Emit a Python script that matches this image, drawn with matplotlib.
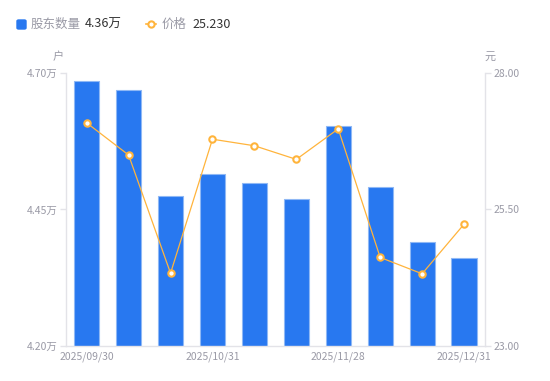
import matplotlib.pyplot as plt
import matplotlib.lines as mlines
import matplotlib.patches as mpatches
import numpy as np

plt.rcParams['font.family'] = ['Noto Sans CJK SC', 'DejaVu Sans']

dates = ["2025/09/30", "", "", "2025/10/31", "", "", "2025/11/28", "", "", "2025/12/31"]
holders = [4.686, 4.669, 4.474, 4.515, 4.499, 4.469, 4.603, 4.492, 4.390, 4.361]
price = [27.09, 26.50, 24.33, 26.79, 26.67, 26.42, 26.98, 24.62, 24.32, 25.23]
left_ticks = [4.20, 4.45, 4.70]
right_ticks = [23.00, 25.50, 28.00]

blue = '#2878F0'
orange = '#FFB43C'
gray = '#9a9aa6'
axis_col = '#e3e3e8'

fig = plt.figure(figsize=(5.5, 3.81), dpi=100)
ax = fig.add_axes([0.1195, 0.0927, 0.7623, 0.7149])
ax2 = ax.twinx()

x = np.arange(len(holders))
ax.bar(x, holders, width=0.6, color=blue, edgecolor='#8fb8f5', linewidth=0.8, zorder=2)
ax.set_ylim(4.20, 4.70)
ax.set_xlim(-0.5, len(holders) - 0.5)
ax.set_yticks(left_ticks)
ax.set_yticklabels([f"{v:.2f}万" for v in left_ticks])
ax.set_xticks(x)
ax.set_xticklabels(dates)

ax2.plot(x, price, color=orange, linewidth=0.9, marker='o', markersize=4.6,
         markerfacecolor='white', markeredgecolor=orange, markeredgewidth=1.5, zorder=3)
ax2.set_ylim(23.0, 28.0)
ax2.set_yticks(right_ticks)
ax2.set_yticklabels([f"{v:.2f}" for v in right_ticks])

for a in (ax, ax2):
    for s in a.spines.values():
        s.set_visible(False)
ax.spines['left'].set_visible(True)
ax.spines['bottom'].set_visible(True)
ax2.spines['right'].set_visible(True)
for s in (ax.spines['left'], ax.spines['bottom'], ax2.spines['right']):
    s.set_color(axis_col)
    s.set_linewidth(1)

ax.tick_params(axis='y', colors=axis_col, labelcolor=gray, labelsize=7.5, length=4, width=1, pad=2)
ax.tick_params(axis='x', length=0, labelcolor=gray, labelsize=7.5, pad=4)
ax2.tick_params(axis='y', colors=axis_col, labelcolor=gray, labelsize=7.5, length=4, width=1, pad=2)

fig.text(58 / 550, 1 - 57 / 381, "户", color=gray, fontsize=8, ha='center', va='center')
fig.text(490 / 550, 1 - 57 / 381, "元", color=gray, fontsize=8, ha='center', va='center')

# legend row
fig.patches.append(mpatches.FancyBboxPatch((17 / 550, 1 - 29 / 381), 9 / 550, 9 / 381,
                                           boxstyle='round,pad=0,rounding_size=0.003',
                                           transform=fig.transFigure, color=blue))
fig.text(31 / 550, 1 - 24 / 381, "股东数量", color=gray, fontsize=9, va='center')
fig.text(85 / 550, 1 - 24 / 381, "4.36万", color='#333333', fontsize=9, va='center')
fig.add_artist(mlines.Line2D([146 / 550, 156 / 550], [1 - 24 / 381, 1 - 24 / 381],
                             color=orange, linewidth=1.2, transform=fig.transFigure))
fig.add_artist(mlines.Line2D([151 / 550], [1 - 24 / 381], color=orange, marker='o',
                             markersize=4.5, markerfacecolor='white', markeredgewidth=1.5,
                             transform=fig.transFigure))
fig.text(162 / 550, 1 - 24 / 381, "价格", color=gray, fontsize=9, va='center')
fig.text(192 / 550, 1 - 24 / 381, "25.230", color='#333333', fontsize=9, va='center')

fig.savefig('out.png', dpi=100)
